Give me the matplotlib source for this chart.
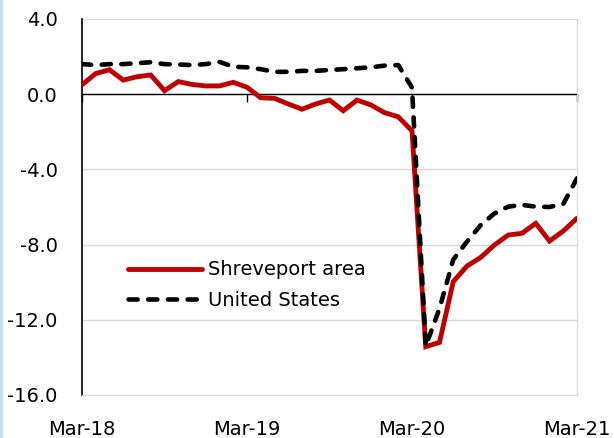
import matplotlib
matplotlib.use("Agg")
import matplotlib.pyplot as plt
from matplotlib.patches import Rectangle

plt.rcParams['font.family'] = ['DejaVu Sans']
plt.rcParams['axes.unicode_minus'] = False

# Monthly series, Mar-18 .. Mar-21 (37 months), percent change over the year
months = list(range(37))
tick_pos = [0, 12, 24, 36]
tick_labels = ['Mar-18', 'Mar-19', 'Mar-20', 'Mar-21']
y_ticks = [-16, -12, -8, -4, 0, 4]

shreveport = [0.5, 1.1, 1.3, 0.75, 0.93, 1.02, 0.19, 0.67, 0.52, 0.44, 0.44, 0.63,
              0.37, -0.19, -0.22, -0.52, -0.8, -0.52, -0.31, -0.88, -0.31, -0.57, -0.98, -1.2,
              -1.95, -13.43, -13.2, -9.97, -9.14, -8.68, -8.02, -7.49, -7.4, -6.87, -7.81, -7.28,
              -6.6]
united_states = [1.6, 1.55, 1.6, 1.6, 1.65, 1.7, 1.6, 1.58, 1.55, 1.6, 1.72, 1.46,
                 1.43, 1.33, 1.19, 1.19, 1.24, 1.24, 1.29, 1.33, 1.38, 1.43, 1.52, 1.55,
                 0.35, -13.4, -11.4, -8.8, -7.84, -6.96, -6.34, -5.98, -5.89, -5.98, -6.0, -5.84,
                 -4.47]

fig = plt.figure(figsize=(6.14, 4.38), dpi=100)
ax = fig.add_axes([82 / 614, 1 - 395 / 438, 495 / 614, 376 / 438])

# thin blue strip down the left edge of the figure
fig.patches.append(Rectangle((0, 0), 2.5 / 614, 1, transform=fig.transFigure,
                             facecolor='#C9DAF2', edgecolor='none'))

ax.plot(months, shreveport, color='#C00000', lw=3.5, solid_capstyle='round',
        solid_joinstyle='miter', label='Shreveport area', zorder=3)
ax.plot(months, united_states, color='black', lw=3.3, linestyle=(0, (2.0, 2.3)),
        dash_capstyle='round', label='United States', zorder=4)

ax.set_xlim(0, 36)
ax.set_ylim(-16, 4)
ax.set_yticks(y_ticks)
ax.set_yticklabels([f'{v:.1f}' for v in y_ticks])
ax.set_xticks(tick_pos)
ax.set_xticklabels(tick_labels)

ax.yaxis.grid(True, color='#D9D9D9', lw=1)
ax.set_axisbelow(True)

# zero line carries the yearly tick marks, labels stay at the bottom
ax.spines['top'].set_position(('data', 0))
ax.spines['top'].set_color('black')
ax.spines['top'].set_linewidth(1)
ax.spines['top'].set_zorder(2)
ax.spines['left'].set_color('black')
ax.spines['left'].set_linewidth(1.2)
ax.spines['right'].set_color('#D9D9D9')
ax.spines['bottom'].set_color('#D9D9D9')

ax.tick_params(axis='x', bottom=False, labelbottom=True, top=True, labeltop=False,
               direction='in', length=5.5, width=1, pad=18, labelsize=14,
               labelcolor='black')
ax.tick_params(axis='y', left=False, pad=14, labelsize=14)

ax.legend(loc='upper left', bbox_to_anchor=(0.093, 0.358), frameon=False,
          fontsize=14, handlelength=3.8, handletextpad=0.3, labelspacing=0.6,
          borderpad=0, borderaxespad=0)

fig.savefig('out.png', dpi=100)
